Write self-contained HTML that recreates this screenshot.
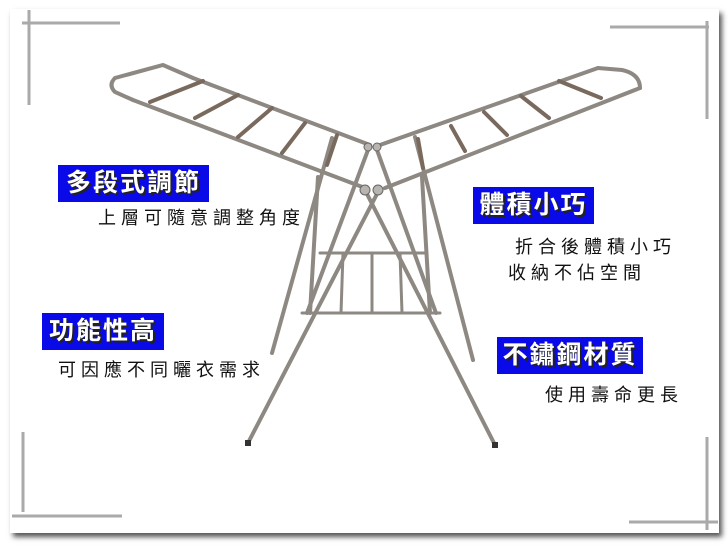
<!DOCTYPE html>
<html><head><meta charset="utf-8"><style>
html,body{margin:0;padding:0;background:#fff;}
#c{position:relative;width:728px;height:546px;overflow:hidden;background:#fff;}
.card{position:absolute;left:10px;top:9px;width:709px;height:524px;background:#fff;box-shadow:3px 4px 5px #555;}
.bx{position:absolute;background:#0a0ae8;color:#fff;font-family:"Liberation Sans","Noto Sans CJK TC",sans-serif;font-weight:bold;font-size:25px;line-height:37px;text-align:center;letter-spacing:2px;text-shadow:2px 2px 0 #222;}
.t{position:absolute;font-family:"Liberation Sans","Noto Sans CJK TC",sans-serif;font-size:18px;color:#111;letter-spacing:5px;line-height:20px;white-space:nowrap;}
svg{position:absolute;left:0;top:0;}
</style></head><body><div id="c">
<div class="card"></div>
<svg width="728" height="546">
<g stroke="#aaa" stroke-width="3" fill="none">
<line x1="29" y1="10" x2="29" y2="105"/><line x1="22" y1="23" x2="120" y2="23"/>
<line x1="610" y1="27" x2="709" y2="27"/><line x1="707" y1="21" x2="707" y2="119"/>
<line x1="23" y1="432" x2="23" y2="512"/><line x1="12" y1="516" x2="122" y2="516"/>
<line x1="707" y1="437" x2="707" y2="530"/><line x1="629" y1="522" x2="718" y2="522"/>
</g>
<g stroke="#8e8882" stroke-linecap="round" fill="none">
<g stroke-width="4">
<line x1="378" y1="192" x2="248" y2="443"/><line x1="366" y1="192" x2="495" y2="445"/>
<line x1="332" y1="138" x2="272" y2="353"/><line x1="318" y1="177" x2="310" y2="313"/>
<line x1="415" y1="137" x2="473" y2="360"/><line x1="422" y1="177" x2="430" y2="313"/>
<line x1="368" y1="150" x2="307" y2="313"/><line x1="377" y1="150" x2="436" y2="313"/>
</g>
<g stroke-width="3">
<line x1="320" y1="253" x2="427" y2="253"/><line x1="302" y1="313" x2="440" y2="313"/>
<line x1="343" y1="253" x2="341" y2="313"/><line x1="372" y1="253" x2="372" y2="313"/><line x1="400" y1="253" x2="402" y2="313"/>
</g>
<g stroke-width="4">
<path d="M193 78 L370 145"/><path d="M133 100 L365 188"/>
<path d="M193 78 L163 65 L115 78 Q108 85 115 92 L133 100"/>
</g>
<g stroke="#7a6a5e" stroke-width="4">
<line x1="150" y1="102" x2="203" y2="81"/><line x1="195" y1="118" x2="238" y2="95"/>
<line x1="238" y1="137" x2="272" y2="108"/><line x1="282" y1="153" x2="305" y2="123"/>
<line x1="327" y1="165" x2="337" y2="135"/>
</g>
<g stroke-width="4">
<path d="M380 145 L598 68"/><path d="M385 188 L640 88"/>
<path d="M598 68 L622 70 Q640 74 640 88"/>
</g>
<g stroke="#7a6a5e" stroke-width="4">
<line x1="418" y1="139" x2="423" y2="168"/><line x1="451" y1="126" x2="465" y2="151"/>
<line x1="484" y1="112" x2="507" y2="135"/><line x1="521" y1="96" x2="549" y2="118"/>
<line x1="559" y1="81" x2="601" y2="98"/>
</g>
</g>
<g fill="#b8b4b0" stroke="#666" stroke-width="1">
<circle cx="368" cy="147" r="4"/><circle cx="377" cy="147" r="4"/>
<circle cx="365" cy="190" r="5"/><circle cx="378" cy="190" r="5"/>
</g>
<g fill="#333"><rect x="245" y="440" width="6" height="6"/><rect x="492" y="442" width="6" height="6"/></g>
</svg>
<div class="bx" style="left:58px;top:165px;width:151px;">多段式調節</div>
<div class="t" style="left:98px;top:208px;">上層可隨意調整角度</div>
<div class="bx" style="left:42px;top:313px;width:122px;">功能性高</div>
<div class="t" style="left:58px;top:360px;">可因應不同曬衣需求</div>
<div class="bx" style="left:473px;top:187px;width:121px;">體積小巧</div>
<div class="t" style="left:515px;top:237px;">折合後體積小巧</div>
<div class="t" style="left:508px;top:263px;">收納不佔空間</div>
<div class="bx" style="left:497px;top:337px;width:146px;">不鏽鋼材質</div>
<div class="t" style="left:545px;top:385px;">使用壽命更長</div>
</div></body></html>
